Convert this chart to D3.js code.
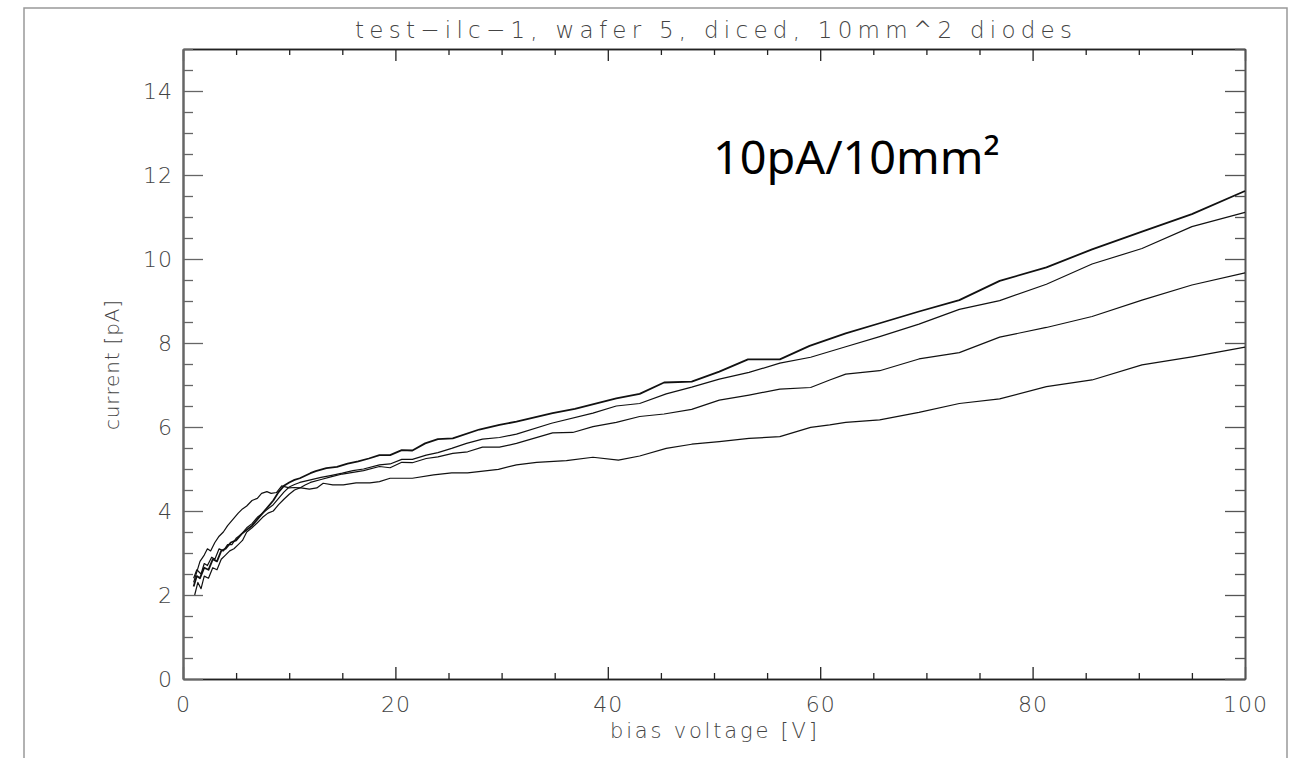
<!DOCTYPE html>
<html>
<head>
<meta charset="utf-8">
<script src="https://cdn.jsdelivr.net/npm/d3@7"></script>
<style>
  body { margin: 0; background: #fff; }
  svg { display: block; }
  .lbl { font-family: "DejaVu Sans", sans-serif; font-weight: 200; fill: #444; }
</style>
</head>
<body>
<div id="chart-area"></div>
<script>
// I-V curves of four diced 10mm^2 diodes

const volts_A = [1.0, 1.3, 1.6, 2.0, 2.4, 2.8, 3.2, 3.6, 4.0, 4.5, 5.0, 5.5, 6.0, 6.5, 7.0, 7.5, 8.0, 8.5, 9.0, 9.5, 10.0, 10.5, 11.0, 12.0, 12.5, 13.5, 14.5, 15.5, 16.5, 17.5, 18.5, 19.5, 20.6, 21.6, 22.8, 24.0, 25.4, 27.9, 29.8, 31.4, 34.8, 36.9, 40.8, 43.0, 45.3, 47.9, 50.5, 53.2, 56.2, 59.0, 62.4, 65.6, 69.3, 73.1, 76.9, 81.3, 85.6, 90.3, 95.0, 100];
const current_A = [2.2, 2.45, 2.4, 2.65, 2.6, 2.85, 2.8, 3.05, 3.1, 3.25, 3.3, 3.45, 3.55, 3.65, 3.8, 3.95, 4.1, 4.25, 4.45, 4.6, 4.68, 4.74, 4.78, 4.9, 4.95, 5.02, 5.05, 5.13, 5.18, 5.25, 5.33, 5.33, 5.45, 5.44, 5.61, 5.71, 5.73, 5.94, 6.05, 6.13, 6.33, 6.43, 6.68, 6.79, 7.06, 7.08, 7.32, 7.61, 7.61, 7.93, 8.23, 8.47, 8.75, 9.02, 9.48, 9.8, 10.23, 10.65, 11.07, 11.62];

const volts_B = [1.0, 1.3, 1.7, 2.0, 2.3, 2.7, 3.0, 3.4, 3.8, 4.2, 4.6, 5.0, 5.5, 6.0, 6.5, 7.0, 7.5, 8.0, 8.5, 9.0, 9.5, 10.0, 10.5, 11.0, 12.0, 13.0, 14.0, 15.0, 16.0, 17.0, 18.5, 19.5, 20.6, 21.6, 22.9, 24.0, 25.3, 26.7, 28.2, 29.8, 31.4, 34.7, 38.6, 40.8, 43.0, 45.5, 47.9, 50.5, 53.3, 56.2, 59.1, 62.4, 65.6, 69.3, 73.1, 76.9, 81.3, 85.6, 90.3, 95.0, 100];
const current_B = [2.4, 2.6, 2.5, 2.75, 2.7, 2.9, 2.85, 3.1, 3.05, 3.2, 3.2, 3.35, 3.45, 3.6, 3.7, 3.85, 3.95, 4.05, 4.15, 4.3, 4.45, 4.57, 4.63, 4.68, 4.74, 4.8, 4.85, 4.9, 4.96, 5.0, 5.1, 5.12, 5.23, 5.23, 5.33, 5.39, 5.49, 5.61, 5.71, 5.75, 5.83, 6.09, 6.33, 6.5, 6.56, 6.79, 6.95, 7.14, 7.3, 7.52, 7.66, 7.91, 8.15, 8.45, 8.8, 9.01, 9.4, 9.88, 10.25, 10.77, 11.11];

const volts_C = [1.1, 1.4, 1.7, 2.0, 2.4, 2.8, 3.2, 3.6, 4.0, 4.4, 4.8, 5.2, 5.6, 6.0, 6.5, 7.0, 7.5, 8.0, 8.5, 9.0, 9.5, 10.0, 10.5, 11.0, 11.5, 12.0, 13.0, 14.0, 15.0, 16.0, 17.0, 18.5, 19.5, 20.6, 21.6, 22.9, 24.0, 25.4, 26.8, 28.2, 29.8, 31.4, 34.8, 36.7, 38.6, 40.8, 43.0, 45.3, 47.9, 50.5, 53.3, 56.2, 59.1, 60.9, 62.4, 65.6, 69.3, 73.1, 76.9, 81.3, 85.6, 90.3, 95.0, 100];
const current_C = [2.0, 2.3, 2.15, 2.45, 2.4, 2.65, 2.6, 2.85, 2.95, 3.05, 3.1, 3.2, 3.3, 3.5, 3.6, 3.72, 3.85, 3.95, 4.0, 4.15, 4.28, 4.4, 4.5, 4.55, 4.62, 4.68, 4.75, 4.82, 4.88, 4.92, 4.96, 5.06, 5.03, 5.16, 5.15, 5.25, 5.29, 5.37, 5.41, 5.52, 5.52, 5.61, 5.86, 5.87, 6.01, 6.11, 6.25, 6.31, 6.42, 6.64, 6.76, 6.9, 6.94, 7.12, 7.26, 7.34, 7.62, 7.77, 8.14, 8.37, 8.63, 9.02, 9.38, 9.67];

const volts_D = [1.0, 1.3, 1.6, 2.0, 2.3, 2.6, 3.0, 3.4, 3.8, 4.2, 4.7, 5.2, 5.6, 6.0, 6.5, 7.0, 7.4, 7.9, 8.3, 8.8, 9.3, 10.0, 10.5, 11.1, 11.9, 12.6, 13.2, 14.1, 15.1, 16.3, 17.6, 18.5, 19.5, 21.6, 23.6, 25.3, 26.8, 29.7, 31.4, 33.3, 36.1, 38.6, 41.0, 43.0, 45.5, 47.9, 50.5, 53.3, 56.2, 59.1, 60.9, 62.4, 65.6, 69.3, 73.1, 76.9, 81.3, 85.6, 90.3, 95.0, 100];
const current_D = [2.3, 2.55, 2.8, 2.95, 3.1, 3.05, 3.25, 3.4, 3.5, 3.65, 3.8, 3.95, 4.05, 4.12, 4.25, 4.3, 4.42, 4.46, 4.42, 4.44, 4.6, 4.55, 4.56, 4.55, 4.52, 4.55, 4.66, 4.62, 4.62, 4.67, 4.67, 4.7, 4.78, 4.78, 4.86, 4.91, 4.91, 4.99, 5.1, 5.16, 5.2, 5.28, 5.21, 5.31, 5.49, 5.59, 5.65, 5.73, 5.77, 5.99, 6.05, 6.11, 6.17, 6.35, 6.56, 6.67, 6.96, 7.12, 7.48, 7.67, 7.9];

const xMajor = [0, 20, 40, 60, 80, 100];
const yMajor = [0, 2, 4, 6, 8, 10, 12, 14];

const curves = [
  { v: volts_A, i: current_A, w: 1.8 },
  { v: volts_B, i: current_B, w: 1.2 },
  { v: volts_C, i: current_C, w: 1.2 },
  { v: volts_D, i: current_D, w: 1.2 },
];

let W = 1297, H = 758;
let margin = { top: 49, right: 52, bottom: 79, left: 183 };

let svg = d3.select("#chart-area").append("svg")
  .attr("width", W).attr("height", H);

// outer frame (open at bottom, like the original screenshot)
svg.append("path")
  .attr("d", "M24,760 L24,8 L1287,8 L1287,760")
  .attr("fill", "none").attr("stroke", "#999").attr("stroke-width", 1.5);

let x = d3.scaleLinear().domain([0, 100]).range([margin.left, W - margin.right]);
let y = d3.scaleLinear().domain([0, 15]).range([H - margin.bottom, margin.top]);

let xMinor = d3.range(0, 101, 5).filter(d => d % 20 != 0);
let yMinor = d3.range(0, 15.01, 0.5).filter(d => d % 2 != 0);

function styleAxis(g, col, sw) {
  g.select(".domain").attr("stroke", col).attr("stroke-width", sw);
  g.selectAll(".tick line").attr("stroke", col).attr("stroke-width", 1.3);
  g.selectAll(".tick text").attr("class", "lbl").attr("font-size", 22)
    .attr("fill", "#444").attr("letter-spacing", 1);
  g.attr("font-family", null).attr("font-size", null);
}

// bottom
let bottomAx = svg.append("g").attr("transform", "translate(0," + y(0) + ")");
bottomAx.append("g").call(d3.axisBottom(x).tickValues(xMajor).tickFormat(d3.format("d"))
  .tickSizeInner(-12).tickSizeOuter(0).tickPadding(17)).call(styleAxis, "#222", 1.6);
bottomAx.append("g").call(d3.axisBottom(x).tickValues(xMinor).tickFormat("")
  .tickSizeInner(-6).tickSizeOuter(0)).call(styleAxis, "#222", 1.6);

// top
let topAx = svg.append("g").attr("transform", "translate(0," + y(15) + ")");
topAx.append("g").call(d3.axisTop(x).tickValues(xMajor).tickFormat("")
  .tickSizeInner(-12).tickSizeOuter(0)).call(styleAxis, "#222", 1.6);
topAx.append("g").call(d3.axisTop(x).tickValues(xMinor).tickFormat("")
  .tickSizeInner(-6).tickSizeOuter(0)).call(styleAxis, "#222", 1.6);

// left
let leftAx = svg.append("g").attr("transform", "translate(" + x(0) + ",0)");
leftAx.append("g").call(d3.axisLeft(y).tickValues(yMajor).tickFormat(d3.format("d"))
  .tickSizeInner(-20).tickSizeOuter(0).tickPadding(10)).call(styleAxis, "#666", 2);
leftAx.append("g").call(d3.axisLeft(y).tickValues(yMinor).tickFormat("")
  .tickSizeInner(-10).tickSizeOuter(0)).call(styleAxis, "#666", 2);

// right
let rightAx = svg.append("g").attr("transform", "translate(" + x(100) + ",0)");
rightAx.append("g").call(d3.axisRight(y).tickValues(yMajor).tickFormat("")
  .tickSizeInner(-20).tickSizeOuter(0)).call(styleAxis, "#555", 1.6);
rightAx.append("g").call(d3.axisRight(y).tickValues(yMinor).tickFormat("")
  .tickSizeInner(-10).tickSizeOuter(0)).call(styleAxis, "#555", 1.6);

// curves
let line = d3.line().x(d => x(d[0])).y(d => y(d[1]));
svg.append("g").selectAll("path.iv")
  .data(curves)
  .enter().append("path")
  .attr("class", "iv")
  .attr("d", c => line(c.v.map((v, k) => [v, c.i[k]])))
  .attr("fill", "none")
  .attr("stroke", "#111")
  .attr("stroke-width", c => c.w)
  .attr("stroke-linejoin", "round");

// texts
svg.append("text").attr("class", "lbl")
  .attr("x", 355).attr("y", 38).attr("font-size", 23)
  .attr("textLength", 717).attr("lengthAdjust", "spacing")
  .text("test\u2212ilc\u22121, wafer 5, diced, 10mm^2 diodes");

svg.append("text").attr("class", "lbl")
  .attr("x", 610).attr("y", 738).attr("font-size", 21)
  .attr("textLength", 207).attr("lengthAdjust", "spacing")
  .text("bias voltage [V]");

svg.append("text").attr("class", "lbl")
  .attr("transform", "translate(119,430) rotate(-90)")
  .attr("font-size", 20)
  .attr("textLength", 130).attr("lengthAdjust", "spacing")
  .text("current [pA]");

svg.append("text")
  .attr("x", 713).attr("y", 174)
  .attr("font-family", "'Noto Sans', 'Open Sans', sans-serif")
  .attr("font-size", 46).attr("fill", "#000")
  .attr("textLength", 287).attr("lengthAdjust", "spacingAndGlyphs")
  .text("10pA/10mm\u00b2");
</script>
</body>
</html>
